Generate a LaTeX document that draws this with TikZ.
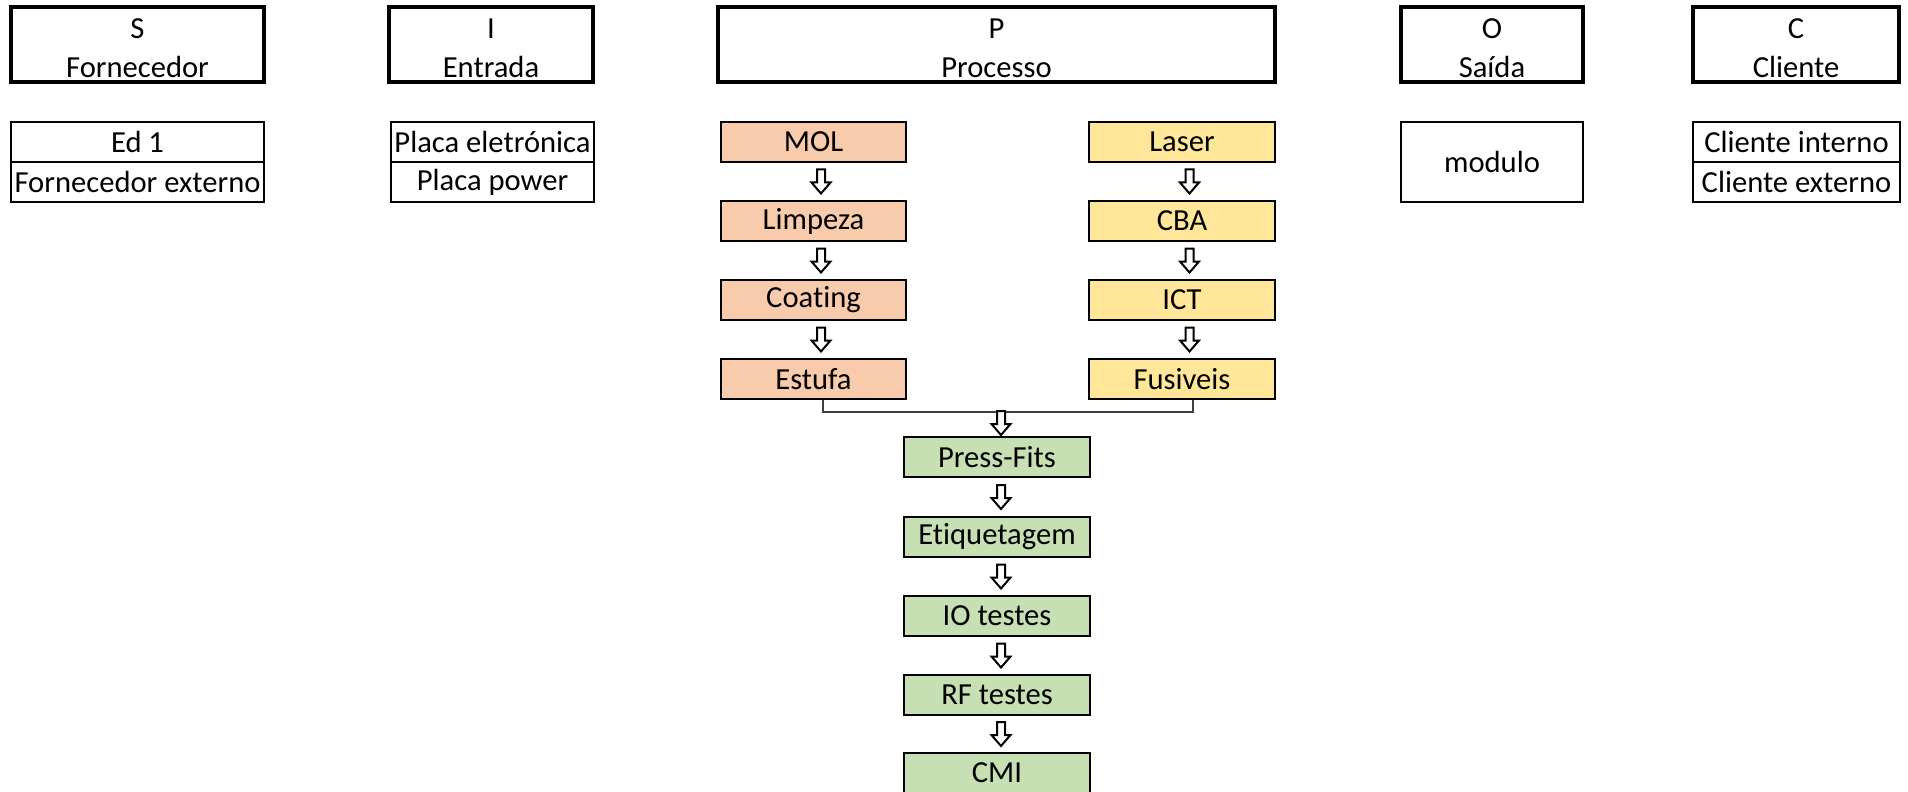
\documentclass[tikz,border=0pt]{standalone}
\usepackage{fontspec}
\setmainfont{Carlito}[Ligatures={NoCommon,NoRare,NoContextual}]
\usetikzlibrary{calc}
\definecolor{salmon}{HTML}{F8CBAD}
\definecolor{butter}{HTML}{FFE699}
\definecolor{sage}{HTML}{C6E0B4}
\definecolor{wire}{HTML}{404040}
% two-line header text, pushed slightly down inside its box
\newcommand\hdrtext[2]{\rule{0pt}{13.9pt}#1\\#2}
\tikzset{
  base/.style={draw=black, rectangle, inner sep=0pt, align=center,
    font=\fontsize{15.3}{19.3}\selectfont},
  header/.style={base, line width=1.7pt, minimum height=37.5pt},
  cell/.style={base, line width=1pt, minimum height=20pt},
  proc/.style={base, line width=1pt, minimum height=20pt},
  leftcol/.style={proc, fill=salmon, minimum width=92.5pt},
  rightcol/.style={proc, fill=butter, minimum width=93pt},
  maincol/.style={proc, fill=sage, minimum width=93pt},
  wireline/.style={draw=wire, line width=0.8pt},
  hollowarrow/.pic={
    \draw[line width=1pt, fill=white, line join=miter]
      (-4,-12) -- (4,-12) -- (4,1) -- (9.5,1) -- (0,12)
      -- (-9.5,1) -- (-4,1) -- cycle;
  },
}
\begin{document}
\begin{tikzpicture}[x=0.5pt, y=-0.5pt]
  \useasboundingbox (0,0) rectangle (1908,792);
  \fill[white] (0,0) rectangle (1908,792);

  % SIPOC header row
  \node[header, minimum width=126.5pt] (hS) at (137.5,44.5) {\hdrtext{S}{Fornecedor}};
  \node[header, minimum width=102pt]   (hI) at (491,44.5)   {\hdrtext{I}{Entrada}};
  \node[header, minimum width=278.5pt] (hP) at (996.5,44.5) {\hdrtext{P}{Processo}};
  \node[header, minimum width=91pt]    (hO) at (1492,44.5)  {\hdrtext{O}{Saída}};
  \node[header, minimum width=103pt]   (hC) at (1796,44.5)  {\hdrtext{C}{Cliente}};

  % suppliers, inputs, outputs, customers
  \node[cell, minimum width=126.5pt] (ed1)  at (137.5,142) {Ed 1};
  \node[cell, minimum width=126.5pt] (fext) at (137.5,182) {Fornecedor externo};
  \node[cell, minimum width=101.5pt] (pel)  at (492.5,142) {Placa eletrónica};
  \node[cell, minimum width=101.5pt] (ppow) at (492.5,182) {Placa power};
  \node[cell, minimum width=91pt, minimum height=40pt] (mod) at (1492,162) {modulo};
  \node[cell, minimum width=103.5pt] (cint) at (1796.5,142) {Cliente interno};
  \node[cell, minimum width=103.5pt] (cext) at (1796.5,182) {Cliente externo};

  % left process branch
  \node[leftcol] (mol)     at (813.5,142) {MOL};
  \node[leftcol] (limpeza) at (813.5,221) {Limpeza};
  \node[leftcol] (coating) at (813.5,300) {Coating};
  \node[leftcol] (estufa)  at (813.5,379) {Estufa};

  % right process branch
  \node[rightcol] (laser)    at (1182,142) {Laser};
  \node[rightcol] (cba)      at (1182,221) {CBA};
  \node[rightcol] (ict)      at (1182,300) {ICT};
  \node[rightcol] (fusiveis) at (1182,379) {Fusiveis};

  % merged line
  \node[maincol] (press)  at (997,457) {Press-Fits};
  \node[maincol] (etiq)   at (997,537) {Etiquetagem};
  \node[maincol] (iotest) at (997,616) {IO testes};
  \node[maincol] (rftest) at (997,695) {RF testes};
  \node[maincol] (cmi)    at (997,773) {CMI};

  % step arrows
  \pic at ($(mol.south)!0.5!(limpeza.north)+(7.5,0)$) {hollowarrow};
  \pic at ($(limpeza.south)!0.5!(coating.north)+(7.5,0)$) {hollowarrow};
  \pic at ($(coating.south)!0.5!(estufa.north)+(7.5,0)$) {hollowarrow};
  \pic at ($(laser.south)!0.5!(cba.north)+(7.5,0)$) {hollowarrow};
  \pic at ($(cba.south)!0.5!(ict.north)+(7.5,0)$) {hollowarrow};
  \pic at ($(ict.south)!0.5!(fusiveis.north)+(7.5,0)$) {hollowarrow};
  \pic at ($(press.south)!0.5!(etiq.north)+(4,0)$) {hollowarrow};
  \pic at ($(etiq.south)!0.5!(iotest.north)+(4,0)$) {hollowarrow};
  \pic at ($(iotest.south)!0.5!(rftest.north)+(4,0)$) {hollowarrow};
  \pic at ($(rftest.south)!0.5!(cmi.north)+(4,0)$) {hollowarrow};

  % joining the two branches
  \coordinate (estout) at ($(estufa.south)+(9.5,0)$);
  \coordinate (fusout) at ($(fusiveis.south)+(11,0)$);
  \coordinate (join)   at ($(press.north)+(4,-24)$);
  \draw[wireline] (estout) |- (join) -| (fusout);
  \pic at ($(join)+(0,11)$) {hollowarrow};
\end{tikzpicture}
\end{document}
